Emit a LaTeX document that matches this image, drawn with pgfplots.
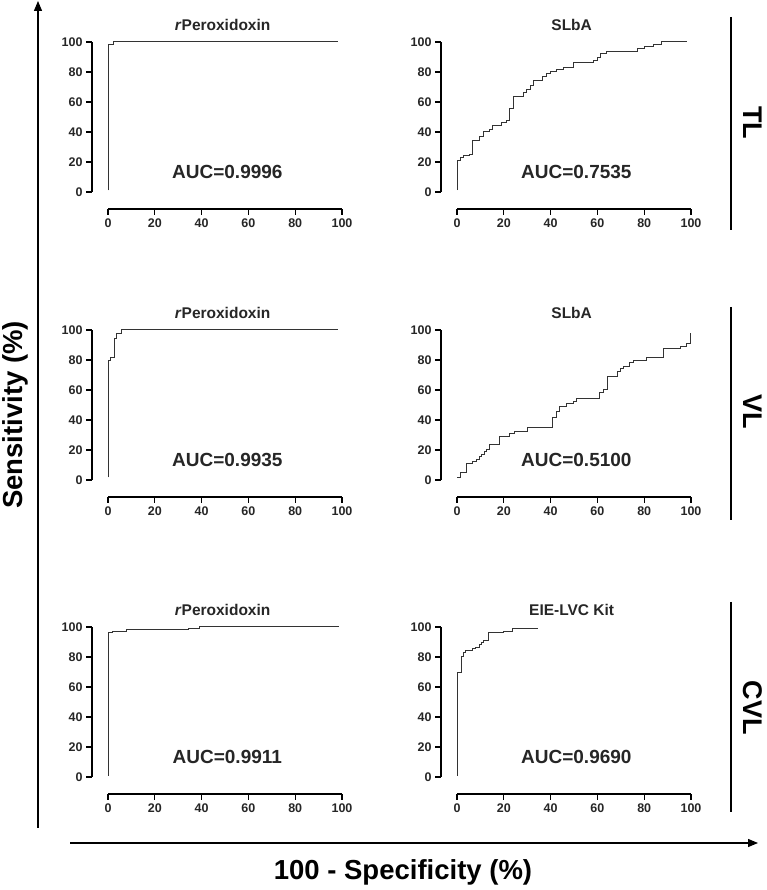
\documentclass[border=0pt]{standalone}
\usepackage{fontspec}
\setmainfont{Liberation Sans}
\usepackage{pgfplots}
\pgfplotsset{compat=1.18}
\usetikzlibrary{arrows.meta}

\pgfplotsset{
  rocpanel/.style={
    scale only axis, width=250pt, height=167pt,
    xmin=-6.84, xmax=100, ymin=-11.33, ymax=100,
    axis x line=bottom, axis y line=left,
    axis line style={draw=none},
    xtick={0,20,40,60,80,100}, ytick={0,20,40,60,80,100},
    minor tick num=0,
    tick align=outside, major tick length=6pt,
    tick style={black, line width=1.1pt},
    ticklabel style={font=\bfseries\fontsize{12.5}{12.5}\selectfont, text=black!85},
    /pgf/number format/assume math mode=true,
    clip=false, anchor=south west,
  },
  roc/.style={const plot mark left, no marks, line width=1pt, black!80},
}
\newcommand{\offaxes}{%
  \draw[line width=1.1pt] (axis cs:0,-11.33) -- (axis cs:100,-11.33);
  \draw[line width=1.1pt] (axis cs:-6.84,0) -- (axis cs:-6.84,100);}
\newcommand{\ptitle}[1]{\node[font=\bfseries\fontsize{15.5}{15.5}\selectfont, text=black!85] at (axis cs:49,111.5) {#1};}
\newcommand{\auc}[1]{\node[font=\bfseries\fontsize{19}{19}\selectfont, text=black!85] at (axis cs:51,13.3) {#1};}

\begin{document}
\begin{tikzpicture}[x=1pt,y=1pt]
\path[use as bounding box] (0pt,0pt) rectangle (767pt,890pt);

% ---------- Row 1: TL ----------
\begin{axis}[rocpanel, at={(92pt,681pt)}]
\offaxes
\addplot[roc] coordinates {(0,1) (0,98) (2.5,100) (98.5,100)};
\ptitle{\textit{r}Peroxidoxin}
\auc{AUC=0.9996}
\end{axis}

\begin{axis}[rocpanel, at={(441pt,681pt)}]
\offaxes
\addplot[roc] coordinates {
(0,1.3) (0,21) (1.3,23) (2.7,24.5) (5.3,25) (6.7,34) (9.5,37) (11.3,40)
(13.8,41.5) (15.2,44.5) (19,46) (21,47.5) (22.6,55.5) (24,63.5) (28.3,66)
(29.8,68) (31.2,71) (32.6,74) (36.6,77) (38.3,79) (40,80.5) (42.6,81.5)
(45.4,83) (49.7,86) (58.3,87.5) (60,89.5) (61.4,92.5) (64,93.5) (77,95.5)
(80.3,97) (84,98.5) (87.5,100) (98.4,100)};
\ptitle{SLbA}
\auc{AUC=0.7535}
\end{axis}

% ---------- Row 2: VL ----------
\begin{axis}[rocpanel, at={(92pt,393pt)}]
\offaxes
\addplot[roc] coordinates {(0,1.8) (0,79.6) (1,81.9) (2.6,94.5) (3.8,97.8) (5.7,100) (98.3,100)};
\ptitle{\textit{r}Peroxidoxin}
\auc{AUC=0.9935}
\end{axis}

\begin{axis}[rocpanel, at={(441pt,393pt)}]
\offaxes
\addplot[roc] coordinates {
(0,1.8) (1.4,5.3) (4,11) (6.6,12.6) (8.3,13.7) (9.4,15.5) (10.6,17.3)
(11.8,18.8) (12.8,20.4) (14,23.7) (18.3,29.2) (22.5,30.8) (24.7,32.3)
(30,35) (41,41.8) (42.5,45.4) (44,49.1) (46.8,50.9) (49.6,52.4) (51,54.6)
(61,58.2) (62.8,60.2) (64.2,69) (68.5,72.3) (69.9,74.1) (71.3,75.9)
(73.9,78.3) (75.6,79.9) (81,81.4) (88.4,87.4) (95.3,88.9) (97.9,90.7)
(99.9,97.8)};
\ptitle{SLbA}
\auc{AUC=0.5100}
\end{axis}

% ---------- Row 3: CVL ----------
\begin{axis}[rocpanel, at={(92pt,96pt)}]
\offaxes
\addplot[roc] coordinates {(0,0.9) (0,96.2) (2.1,97.3) (7.8,98.2) (34.6,99.3) (39.2,100) (98.7,100)};
\ptitle{\textit{r}Peroxidoxin}
\auc{AUC=0.9911}
\end{axis}

\begin{axis}[rocpanel, at={(441pt,96pt)}]
\offaxes
\addplot[roc] coordinates {
(0,0.9) (0,69.5) (2,80.6) (2.9,82.9) (3.7,84) (4.7,84.6) (6.6,85.5)
(8,86.6) (9.4,88) (10.6,89.5) (11.3,91.1) (13.3,96.2) (20,97.3) (23.5,98.9) (34.7,98.9)};
\ptitle{EIE-LVC Kit}
\auc{AUC=0.9690}
\end{axis}

% ---------- Outer frame ----------
\draw[line width=1.2pt, -{Triangle[length=10pt,width=8pt]}] (38pt,62pt) -- (38pt,889pt);
\draw[line width=1.2pt, -{Triangle[length=10pt,width=8pt]}] (70pt,47pt) -- (758pt,47pt);
\node[rotate=90, font=\bfseries\fontsize{27.5}{27.5}\selectfont] at (15pt,475pt) {Sensitivity (\%)};
\node[font=\bfseries\fontsize{27.5}{27.5}\selectfont] at (403pt,18pt) {100 - Specificity (\%)};

\draw[line width=1.2pt] (731pt,873pt) -- (731pt,660pt);
\draw[line width=1.2pt] (731pt,583pt) -- (731pt,370pt);
\draw[line width=1.2pt] (731pt,288pt) -- (731pt,78pt);
\node[rotate=-90, font=\bfseries\fontsize{27}{27}\selectfont] at (753pt,767pt) {TL};
\node[rotate=-90, font=\bfseries\fontsize{27}{27}\selectfont] at (753pt,478pt) {VL};
\node[rotate=-90, font=\bfseries\fontsize{27}{27}\selectfont] at (753pt,182pt) {CVL};
\end{tikzpicture}
\end{document}
